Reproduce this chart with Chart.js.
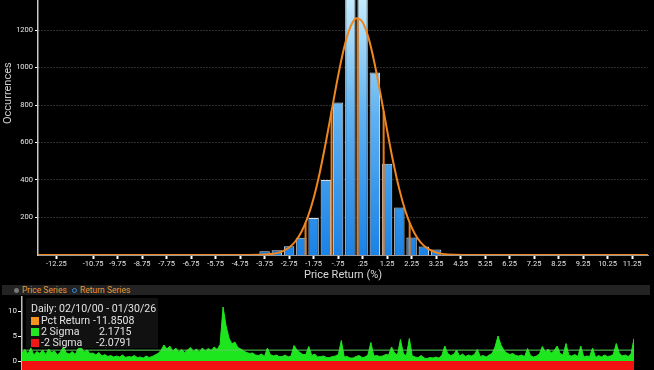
<!DOCTYPE html>
<html>
<head>
<meta charset="utf-8">
<script src="https://cdn.jsdelivr.net/npm/chart.js@4.4.1/dist/chart.umd.min.js"></script>
<style>
  body { margin:0; background:#000; width:654px; height:370px; overflow:hidden; position:relative; font-family: Roboto, 'Liberation Sans', sans-serif; }
  #histBox { position:absolute; left:0; top:0; width:654px; height:283px; }
  #retBox { position:absolute; left:0; top:296px; width:654px; height:74px; }
  #yTitle { position:absolute; left:-22px; top:87px; width:60px; height:14px; line-height:14px; text-align:center; transform:rotate(-90deg); color:#cfcfcf; font-size:11px; }
  #strip { position:absolute; left:2px; top:285px; width:648px; height:10px; background:#232323; color:#e89a3c; font-size:8.5px; line-height:10px; }
  #strip span { position:absolute; top:0; }
  .dot { position:absolute; top:3px; width:5px; height:5px; border-radius:50%; box-sizing:border-box; }
  #info { position:absolute; left:26px; top:298px; width:132px; height:50px; background:rgba(18,18,18,0.92); color:#e2e2e2; font-size:10.6px; }
  #info div { position:absolute; height:11px; line-height:11px; white-space:nowrap; }
  .sq { position:absolute; width:8px; height:8px; left:5px; }
</style>
</head>
<body>
<div id="histBox"><canvas id="hist"></canvas></div>
<div id="yTitle">Occurrences</div>
<div id="strip">
  <i class="dot" style="left:12px;background:#777"></i><span style="left:20px">Price Series</span>
  <i class="dot" style="left:70px;border:1.5px solid #3b8de0"></i><span style="left:78px">Return Series</span>
</div>
<div id="retBox"><canvas id="ret"></canvas></div>
<div id="info"></div>
<script>
// histogram bins (bin width 0.5)
const binCenters = [-3.75, -3.25, -2.75, -2.25, -1.75, -1.25, -0.75, -0.25, 0.25, 0.75, 1.25, 1.75, 2.25, 2.75, 3.25];
const binCounts = [20, 25, 47, 92, 198, 400, 813, 1650, 1600, 973, 487, 253, 94, 46, 30];

// fitted normal curve
const curveX = [-13, -5, -4.5, -4, -3.5, -3.25, -3, -2.75, -2.5, -2.25, -2, -1.75, -1.5, -1.25, -1, -0.75, -0.5, -0.25, 0,
  0.25, 0.5, 0.75, 1, 1.25, 1.5, 1.75, 2, 2.25, 2.5, 2.75, 3, 3.25, 3.5, 4, 4.5, 5, 12];
const curveY = [0, 0, 0.2, 0.9, 4.9, 10, 21, 40, 72, 123, 198, 303, 439, 601, 779, 955, 1108, 1216, 1263,
  1241, 1154, 1015, 845, 665, 496, 350, 233, 147, 88, 50, 27, 13, 6, 1, 0.2, 0, 0];

// mean and sigma markers
const sigmaX = [-2.0791, -1.0165, 0.0462, 1.109, 2.1715];
const sigmaY = [171, 767, 1264, 767, 171];

const xTickValues = [-12.25, -10.75, -9.75, -8.75, -7.75, -6.75, -5.75, -4.75, -3.75, -2.75, -1.75, -0.75,
  0.25, 1.25, 2.25, 3.25, 4.25, 5.25, 6.25, 7.25, 8.25, 9.25, 10.25, 11.25];
const xTickLabels = ['-12.25', '-10.75', '-9.75', '-8.75', '-7.75', '-6.75', '-5.75', '-4.75', '-3.75', '-2.75', '-1.75', '-.75',
  '.25', '1.25', '2.25', '3.25', '4.25', '5.25', '6.25', '7.25', '8.25', '9.25', '10.25', '11.25'];
const yTicks = [200, 400, 600, 800, 1000, 1200];

// bottom panel: daily return series 02/10/00 - 01/30/26 (sampled)
const returnSeries = [
  1.6, 2.3, 1.4, 2.6, 1.2, 1.9, 1.5, 2.2,
  1.3, 2.4, 1.7, 2.0, 1.2, 1.8, 2.8, 1.6,
  1.4, 1.9, 1.3, 2.5, 2.7, 1.8, 2.2, 1.5,
  1.6, 1.2, 1.7, 1.0, 1.3, 0.9, 1.1, 0.8,
  1.0, 0.8, 1.2, 0.7, 0.9, 0.8, 1.1, 0.7,
  0.8, 0.6, 1.0, 0.7, 0.9, 1.2, 1.5, 2.1,
  3.2, 2.4, 3.0, 1.9, 2.6, 1.8, 2.3, 1.7,
  2.2, 2.7, 1.9, 2.4, 1.8, 2.6, 2.0, 2.5,
  2.1, 2.8, 2.3, 3.3, 10.8, 7.1, 4.6, 3.4,
  3.8, 2.7, 2.4, 2.0, 1.7, 1.5, 1.6, 1.2,
  1.1, 1.4, 0.9, 2.6, 1.3, 1.0, 1.2, 0.9,
  0.9, 1.2, 0.8, 1.0, 3.1, 2.2, 1.7, 1.3,
  1.3, 2.9, 1.1, 1.4, 0.8, 0.9, 1.0, 0.7,
  0.7, 0.9, 1.0, 1.3, 4.1, 0.8, 0.9, 0.6,
  0.6, 0.9, 1.1, 0.7, 0.8, 1.2, 3.7, 1.0,
  1.1, 0.9, 1.0, 1.3, 1.2, 2.8, 1.6, 1.2,
  4.3, 1.5, 1.0, 4.5, 1.0, 0.8, 0.7, 1.1,
  0.6, 0.5, 0.7, 0.6, 0.8, 0.6, 1.1, 3.0,
  1.5, 1.1, 1.3, 2.2, 1.0, 1.4, 0.9, 1.2,
  1.0, 1.3, 2.3, 0.9, 1.1, 0.8, 1.2, 1.5,
  2.8, 5.0, 3.2, 2.1, 1.6, 1.3, 1.5, 1.1,
  1.0, 1.2, 0.9, 2.5, 1.1, 0.8, 1.0, 1.4,
  2.9, 1.8, 2.4, 1.6, 2.1, 3.0, 1.5, 1.2,
  3.5, 1.1, 1.0, 1.3, 0.9, 3.0, 0.8, 1.0,
  0.9, 2.6, 0.7, 1.1, 0.8, 1.2, 0.9, 1.0,
  1.3, 3.5, 1.6, 1.0, 1.2, 0.9, 1.4, 4.5
];
const retTicks = [0, 5, 10];
const periodLabel = 'Daily: 02/10/00 - 01/30/26';
const pctReturn = -11.8508;
const twoSigma = 2.1715;
const negTwoSigma = -2.0791;

const tickFont = { family: 'Roboto', size: 7.5 };

function barFill(c) {
  const area = c.chart.chartArea;
  if (!area) return '#2a8ae8';
  const g = c.chart.ctx.createLinearGradient(0, area.top, 0, area.bottom);
  g.addColorStop(0, '#c4ebfc');
  g.addColorStop(0.45, '#5fb2f2');
  g.addColorStop(1, '#1a82e6');
  return g;
}

// no overflow padding from tick labels, so the plot fills its box
function noPad(s) {
  s.paddingTop = 0;
  s.paddingBottom = 0;
  s.paddingLeft = 0;
  s.paddingRight = 0;
}

const sigmaLines = [];
sigmaX.forEach((x, i) => {
  sigmaLines.push({ x: x, y: 0 }, { x: x, y: sigmaY[i] }, { x: x, y: null });
});

new Chart(document.getElementById('hist'), {
  type: 'bar',
  data: {
    datasets: [
      {
        type: 'line',
        data: curveX.map((x, i) => ({ x: x, y: curveY[i] })),
        borderColor: '#f0861e',
        borderWidth: 2,
        pointRadius: 0,
        cubicInterpolationMode: 'monotone',
        order: 1
      },
      {
        type: 'line',
        data: sigmaLines,
        borderColor: '#e47c1a',
        borderWidth: 2,
        pointRadius: 0,
        spanGaps: false,
        order: 2
      },
      {
        type: 'bar',
        data: binCenters.map((x, i) => ({ x: x, y: binCounts[i] })),
        backgroundColor: barFill,
        borderColor: '#d5dde6',
        borderWidth: 1,
        borderSkipped: 'bottom',
        barPercentage: 0.85,
        categoryPercentage: 1,
        order: 3
      }
    ]
  },
  options: {
    responsive: true,
    maintainAspectRatio: false,
    animation: false,
    layout: { padding: { left: 0, right: 6, top: 0, bottom: 0 } },
    plugins: { legend: { display: false }, tooltip: { enabled: false } },
    scales: {
      x: {
        type: 'linear',
        min: -13,
        max: 11.9,
        offset: false,
        grid: { display: true, drawOnChartArea: false, offset: false, tickLength: 4, tickColor: '#ffffff', tickWidth: 2 },
        border: { color: '#9a9a9a', width: 1 },
        afterBuildTicks: s => { s.ticks = xTickValues.map(v => ({ value: v })); },
        afterFit: s => { s.height = 28; noPad(s); },
        ticks: { autoSkip: false, maxRotation: 0, padding: 1, color: '#e6e6e6', font: tickFont, callback: (v, i) => xTickLabels[i] },
        title: { display: true, text: 'Price Return (%)', color: '#d8d8d8', font: { family: 'Roboto', size: 11 }, padding: { top: 0, bottom: 1 } }
      },
      y: {
        min: 0,
        max: 1360,
        grid: { color: '#5a5a5a', tickColor: '#ffffff', tickLength: 3, lineWidth: 1 },
        border: { color: '#c8c8c8', width: 1.5, dash: [1, 2] },
        afterBuildTicks: s => { s.ticks = yTicks.map(v => ({ value: v })); },
        afterFit: s => { s.width = 38; noPad(s); },
        ticks: { color: '#e6e6e6', font: tickFont, padding: 2, callback: v => String(v) }
      }
    }
  }
});

const last = returnSeries.length - 1;
new Chart(document.getElementById('ret'), {
  type: 'line',
  data: {
    labels: returnSeries.map((_, i) => i),
    datasets: [
      { data: [{ x: 0, y: twoSigma }, { x: last, y: twoSigma }], borderColor: '#5ccf5c', borderWidth: 1, pointRadius: 0, order: 1 },
      { data: [{ x: 0, y: negTwoSigma }, { x: last, y: negTwoSigma }], borderColor: '#ff4040', borderWidth: 1, pointRadius: 0, order: 1 },
      { data: returnSeries, borderColor: '#1ee61e', backgroundColor: '#1ee61e', fill: 'origin', borderWidth: 1, pointRadius: 0, order: 2 },
      { data: [{ x: 0, y: 0 }, { x: last, y: 0 }], borderColor: '#f31212', backgroundColor: '#f31212', fill: 'start', borderWidth: 1, pointRadius: 0, order: 3 }
    ]
  },
  options: {
    responsive: true,
    maintainAspectRatio: false,
    animation: false,
    layout: { padding: { left: 0, right: 20, top: 0, bottom: 0 } },
    plugins: { legend: { display: false }, tooltip: { enabled: false } },
    scales: {
      x: { type: 'linear', display: false, min: 0, max: last },
      y: {
        min: -1.8,
        max: 13,
        grid: { drawOnChartArea: false, tickColor: '#ffffff', tickLength: 4 },
        border: { color: '#bdbdbd', width: 1.5 },
        afterBuildTicks: s => { s.ticks = retTicks.map(v => ({ value: v })); },
        afterFit: s => { s.width = 22; noPad(s); },
        ticks: { color: '#e6e6e6', font: { family: 'Roboto', size: 8 }, padding: 1, callback: v => String(v) }
      }
    }
  }
});

// info box
const info = document.getElementById('info');
const rows = [
  { color: '#f7931e', label: 'Pct Return', value: pctReturn.toFixed(4), vx: 67 },
  { color: '#22e822', label: '2 Sigma', value: twoSigma.toFixed(4), vx: 73 },
  { color: '#f01818', label: '-2 Sigma', value: negTwoSigma.toFixed(4), vx: 70 }
];
let html = '<div style="left:5px;top:5px">' + periodLabel + '</div>';
rows.forEach((r, i) => {
  const top = 17 + i * 11;
  html += '<i class="sq" style="top:' + (top + 1.5) + 'px;background:' + r.color + '"></i>';
  html += '<div style="left:15px;top:' + top + 'px">' + r.label + '</div>';
  html += '<div style="left:' + r.vx + 'px;top:' + top + 'px">' + r.value + '</div>';
});
info.innerHTML = html;
</script>
</body>
</html>
